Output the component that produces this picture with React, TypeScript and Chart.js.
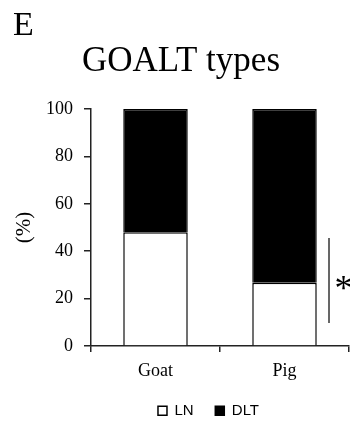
import React, { useEffect, useRef } from "react";
import { Chart, registerables } from "chart.js";

Chart.register(...registerables);

// ---- data ----
const categories = ["Goat", "Pig"];
const seriesNames = ["LN", "DLT"];
const lnValues = [48, 26.7];
const dltValues = [52, 73.3];
const yTicks = [0, 20, 40, 60, 80, 100];
const panelLabel = "E";
const chartTitle = "GOALT types";
const yAxisTitle = "(%)";
const sigCategory = 1;
const sigRange = [9.7, 45.6];
const sigStarValue = 23.6;
const sigLabel = "*";

const SERIF = "'Liberation Serif', 'Times New Roman', serif";
const SANS = "'Liberation Sans', Arial, sans-serif";
const AXIS = "#222";

const sigPlugin = {
  id: "sigMark",
  afterDatasetsDraw(chart: any) {
    const { ctx, scales } = chart;
    const x = scales.x;
    const y = scales.y;
    const cw = x.width / categories.length;
    const cx = x.getPixelForValue(sigCategory);
    const lx = cx + cw * 0.345;
    ctx.save();
    ctx.strokeStyle = "#000";
    ctx.lineWidth = 1.2;
    ctx.beginPath();
    ctx.moveTo(lx, y.getPixelForValue(sigRange[1]));
    ctx.lineTo(lx, y.getPixelForValue(sigRange[0]));
    ctx.stroke();
    ctx.font = `36px ${SERIF}`;
    ctx.fillStyle = "#000";
    ctx.textAlign = "left";
    ctx.textBaseline = "middle";
    ctx.fillText(sigLabel, cx + cw * 0.388, y.getPixelForValue(sigStarValue));
    ctx.restore();
  },
};

const legendShift = {
  id: "legendShift",
  afterLayout(chart: any) {
    const lg = chart.legend;
    if (lg) {
      lg.left = lg.left - 23;
    }
  },
};

export default function App() {
  const ref = useRef<HTMLCanvasElement | null>(null);

  useEffect(() => {
    if (!ref.current) return;
    const chart = new Chart(ref.current, {
      type: "bar",
      data: {
        labels: categories,
        datasets: [
          {
            label: seriesNames[0],
            data: lnValues,
            backgroundColor: "#ffffff",
            borderColor: "#000000",
            borderWidth: 1.5,
            barPercentage: 0.5,
            categoryPercentage: 1,
          },
          {
            label: seriesNames[1],
            data: dltValues,
            backgroundColor: "#000000",
            borderColor: "#000000",
            borderWidth: 1.5,
            barPercentage: 0.5,
            categoryPercentage: 1,
          },
        ],
      },
      options: {
        animation: false,
        responsive: false,
        maintainAspectRatio: false,
        layout: { padding: { top: 0, left: 13, right: 1, bottom: -7.3 } },
        plugins: {
          tooltip: { enabled: false },
          title: {
            display: true,
            text: panelLabel,
            align: "start",
            color: "#000",
            font: { family: SERIF, size: 34, weight: "normal", lineHeight: 1 },
            padding: { top: 9, bottom: 0 },
          },
          subtitle: {
            display: true,
            text: chartTitle,
            align: "center",
            color: "#000",
            font: { family: SERIF, size: 35, weight: "normal", lineHeight: 1 },
            padding: { top: 1, bottom: 30 },
          },
          legend: {
            display: true,
            position: "bottom",
            fullSize: false,
            labels: {
              color: "#000",
              font: { family: SANS, size: 15 },
              boxWidth: 9,
              boxHeight: 9,
              padding: 13.3,
              generateLabels: (c: any) => {
                const items = (Chart as any).defaults.plugins.legend.labels.generateLabels(c);
                return items.map((it: any, i: number) => ({
                  ...it,
                  text: i < items.length - 1 ? it.text + "  " : it.text,
                }));
              },
            },
          },
        },
        scales: {
          x: {
            stacked: true,
            offset: true,
            grid: {
              display: true,
              offset: true,
              drawOnChartArea: false,
              drawTicks: true,
              tickLength: 6,
              color: AXIS,
              lineWidth: 1.5,
            },
            border: { display: true, color: AXIS, width: 1.5 },
            ticks: {
              color: "#000",
              font: { family: SERIF, size: 18 },
              padding: 8.2,
            },
          },
          y: {
            stacked: true,
            min: yTicks[0],
            max: yTicks[yTicks.length - 1],
            grid: {
              display: true,
              drawOnChartArea: false,
              drawTicks: true,
              tickLength: 7,
              color: AXIS,
              lineWidth: 1.5,
            },
            border: { display: true, color: AXIS, width: 1.5 },
            ticks: {
              stepSize: yTicks[1] - yTicks[0],
              color: "#000",
              font: { family: SERIF, size: 18 },
              padding: 11,
            },
            title: {
              display: true,
              text: yAxisTitle,
              color: "#000",
              font: { family: SERIF, size: 21, lineHeight: 1 },
              padding: { top: 1, bottom: 0 },
            },
          },
        },
      },
      plugins: [sigPlugin, legendShift],
    });
    return () => chart.destroy();
  }, []);

  return (
    <div style={{ position: "absolute", left: 0, top: 0, width: 350, height: 421 }}>
      <canvas ref={ref} width={350} height={421} style={{ display: "block" }} />
    </div>
  );
}
